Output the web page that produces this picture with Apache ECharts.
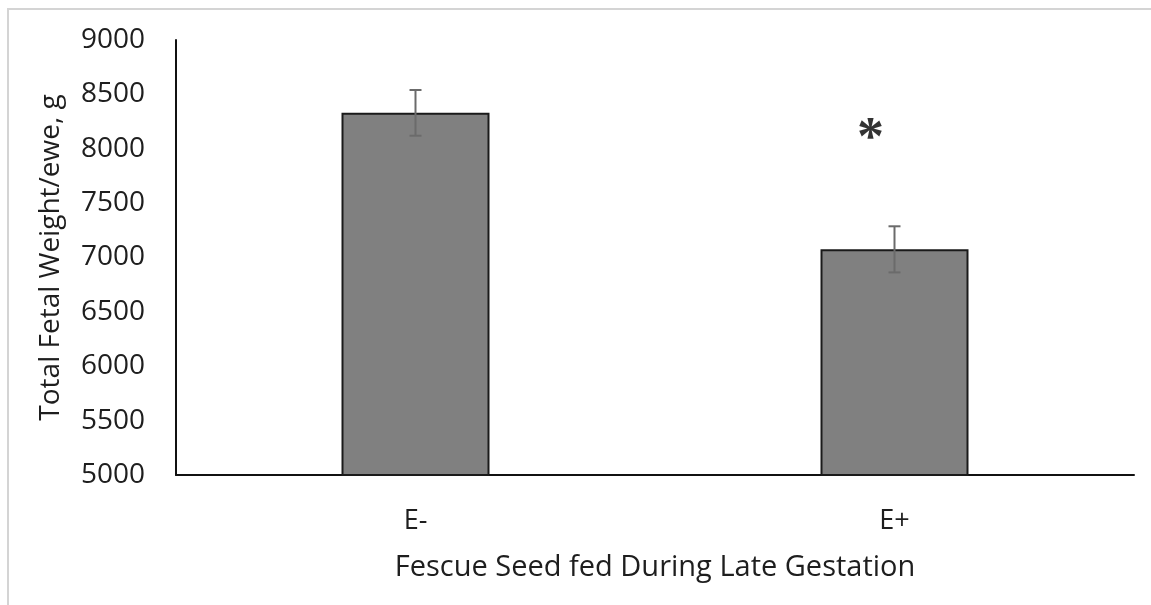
<!DOCTYPE html>
<html>
<head>
<meta charset="utf-8">
<script src="https://cdn.jsdelivr.net/npm/echarts@6/dist/echarts.min.js"></script>
<style>
  html, body { margin: 0; padding: 0; background: #fff; }
  #frame { position: absolute; left: 7px; top: 8px; width: 1144px; height: 597px;
           border-top: 2px solid #d4d4d4; border-left: 2px solid #d4d4d4; box-sizing: border-box; }
  #chart { position: absolute; left: 0; top: 0; width: 1151px; height: 605px; }
</style>
</head>
<body>
<div id="frame"></div>
<div id="chart"></div>
<script>
// data
const categories = ["E-", "E+"];
const weights = [8330, 7075];
const errors = [210, 212];
const starPoint = ["E+", 8150];
const yTicks = { min: 5000, max: 9000, interval: 500 };

const font = "Open Sans";
const chart = echarts.init(document.getElementById("chart"));

const option = {
  animation: false,
  grid: { left: 176, right: 17, top: 40, bottom: 130 },
  xAxis: {
    type: "category",
    data: categories,
    name: "Fescue Seed fed During Late Gestation",
    nameLocation: "middle",
    nameGap: 78,
    nameTextStyle: { color: "#1e1e1e", fontSize: 29, fontFamily: font },
    axisLine: { lineStyle: { color: "#111", width: 2 } },
    axisTick: { show: false },
    axisLabel: { color: "#1e1e1e", fontSize: 27, fontFamily: font, margin: 33 },
  },
  yAxis: {
    type: "value",
    min: yTicks.min,
    max: yTicks.max,
    interval: yTicks.interval,
    name: "Total Fetal Weight/ewe, g",
    nameLocation: "middle",
    nameRotate: 90,
    nameGap: 111,
    nameTextStyle: { color: "#1e1e1e", fontSize: 28, fontFamily: font },
    axisLine: { show: true, lineStyle: { color: "#111", width: 2 } },
    axisTick: { show: false },
    splitLine: { show: false },
    axisLabel: {
      color: "#1e1e1e", fontSize: 28, fontFamily: font, margin: 31,
      formatter: (v) => String(v),
    },
  },
  series: [
    {
      type: "bar",
      data: weights,
      barWidth: 148,
      itemStyle: { color: "#808080", borderColor: "#1a1a1a", borderWidth: 2 },
    },
    {
      // error bars
      type: "custom",
      data: weights.map((w, i) => [i, w - errors[i], w + errors[i]]),
      z: 5,
      renderItem: function (params, api) {
        const lo = api.coord([api.value(0), api.value(1)]);
        const hi = api.coord([api.value(0), api.value(2)]);
        const hw = 6;
        const style = { stroke: "#6b6b6b", lineWidth: 2 };
        return {
          type: "group",
          children: [
            { type: "line", shape: { x1: lo[0], y1: lo[1], x2: hi[0], y2: hi[1] }, style: style },
            { type: "line", shape: { x1: lo[0] - hw, y1: lo[1], x2: lo[0] + hw, y2: lo[1] }, style: style },
            { type: "line", shape: { x1: hi[0] - hw, y1: hi[1], x2: hi[0] + hw, y2: hi[1] }, style: style },
          ],
        };
      },
    },
    {
      // significance marker
      type: "scatter",
      data: [starPoint],
      symbolSize: 0,
      label: {
        show: true,
        formatter: "*",
        position: "inside",
        offset: [-24, 8],
        color: "#000",
        fontSize: 54,
        fontWeight: "bold",
        fontFamily: "Liberation Serif",
      },
    },
  ],
};
chart.setOption(option);
</script>
</body>
</html>
